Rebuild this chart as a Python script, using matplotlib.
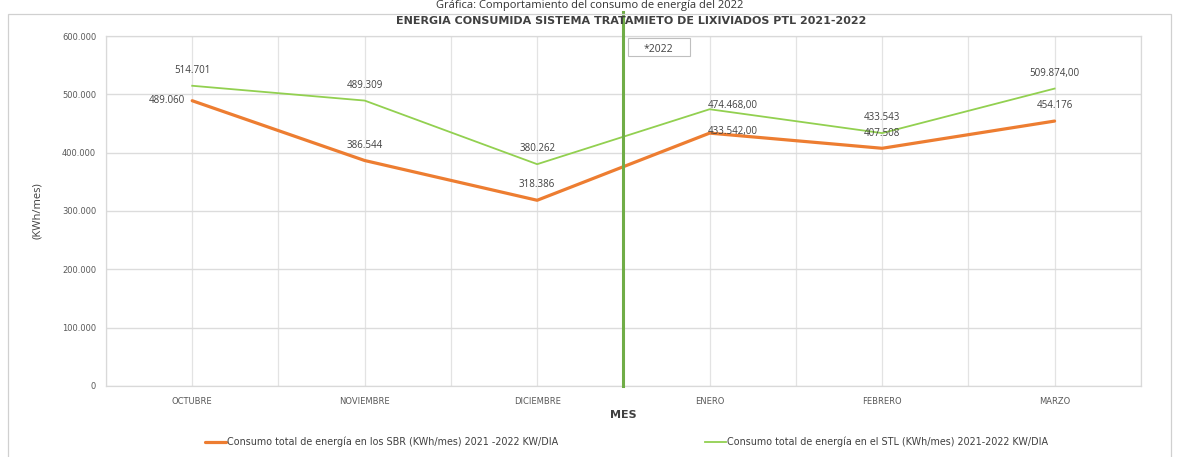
import matplotlib.pyplot as plt
from matplotlib.ticker import FuncFormatter, MultipleLocator

plt.rcParams['font.family'] = ['DejaVu Sans']

# Datos
meses = ['OCTUBRE', 'NOVIEMBRE', 'DICIEMBRE', 'ENERO', 'FEBRERO', 'MARZO']
sbr = [489060, 386544, 318386, 433542, 407508, 454176]
stl = [514701, 489309, 380262, 474468, 433543, 509874]
sbr_etiquetas = ['489.060', '386.544', '318.386', '433.542,00', '407.508', '454.176']
stl_etiquetas = ['514.701', '489.309', '380.262', '474.468,00', '433.543', '509.874,00']
leyenda_sbr = 'Consumo total de energía en los SBR (KWh/mes) 2021 -2022 KW/DIA'
leyenda_stl = 'Consumo total de energía en el STL (KWh/mes) 2021-2022 KW/DIA'

naranja = '#ED7D31'
verde = '#92D050'
gris = '#595959'

fig = plt.figure(figsize=(11.8, 4.57), dpi=100)
ax = fig.add_axes([0.0898, 0.1554, 0.877, 0.7658])

x = list(range(len(meses)))
ax.plot(x, sbr, color=naranja, lw=2.3, solid_capstyle='round', zorder=3, label=leyenda_sbr)
ax.plot(x, stl, color=verde, lw=1.3, zorder=3, label=leyenda_stl)

# Etiquetas de datos
estilo = dict(textcoords='offset points', va='center', fontsize=7, color='#404040', family='Open Sans')
for i, (v, t) in enumerate(zip(sbr, sbr_etiquetas)):
    if i == 0:
        ax.annotate(t, (i, v), xytext=(-5, 0), ha='right', **estilo)
    elif i == 3:
        ax.annotate(t, (i, v), xytext=(-1, 1), ha='left', **estilo)
    else:
        ax.annotate(t, (i, v), xytext=(0, 11), ha='center', **estilo)
for i, (v, t) in enumerate(zip(stl, stl_etiquetas)):
    if i == 3:
        ax.annotate(t, (i, v), xytext=(-1, 3), ha='left', **estilo)
    else:
        ax.annotate(t, (i, v), xytext=(0, 11), ha='center', **estilo)

# Linea divisoria 2022
ax.axvline(2.5, ymin=0, ymax=1.07, color='#70AD47', lw=2.2, zorder=4, clip_on=False)
ax.add_patch(plt.Rectangle((0.504, 0.943), 0.06, 0.051, transform=ax.transAxes,
                           fc='white', ec='#bfbfbf', lw=0.8, zorder=5))
ax.text(0.534, 0.962, '*2022', transform=ax.transAxes, ha='center', va='center',
        fontsize=7.5, family='Open Sans', color='#404040', zorder=6)

ax.set_xlim(-0.5, 5.5)
ax.set_ylim(0, 600000)
ax.set_xticks(x)
ax.set_xticklabels(meses, fontsize=6, color=gris)
ax.xaxis.set_minor_locator(MultipleLocator(0.5))
ax.yaxis.set_major_locator(MultipleLocator(100000))
ax.yaxis.set_major_formatter(FuncFormatter(lambda v, p: '0' if v == 0 else f'{int(v):,}'.replace(',', '.')))
ax.tick_params(axis='y', labelsize=6, labelcolor=gris, length=0, pad=7)
ax.tick_params(axis='x', which='both', length=0, pad=8)
ax.grid(True, which='both', axis='x', color='#e3e3e3', lw=0.9)
ax.grid(True, which='major', axis='y', color='#dcdcdc', lw=1.0)
ax.set_axisbelow(True)
for s in ax.spines.values():
    s.set_color('#d9d9d9')
    s.set_linewidth(0.9)

ax.set_ylabel('(KWh/mes)', fontsize=8, color='#404040', family='Open Sans', labelpad=14)
ax.set_xlabel('MES', fontsize=8, color='#404040', fontweight='bold', labelpad=3)
fig.text(0.535, 0.955, 'ENERGIA CONSUMIDA SISTEMA TRATAMIETO DE LIXIVIADOS PTL 2021-2022',
         ha='center', va='center', fontsize=8, fontweight='bold', color='#404040')
fig.text(0.5, 0.999, 'Gráfica: Comportamiento del consumo de energía del 2022',
         ha='center', va='top', fontsize=8, color='#333333', family='Open Sans')

fig.legend(loc='center', bbox_to_anchor=(0.531, 0.033), ncol=2, frameon=False,
           fontsize=6.9, handlelength=2.2, handletextpad=0.15, columnspacing=15.3,
           labelcolor='#404040')

# Borde del grafico
fig.patches.append(plt.Rectangle((0.007, -0.05), 0.985, 1.02, transform=fig.transFigure,
                                 fill=False, ec='#d0d0d0', lw=0.9))

fig.savefig('out.png', dpi=100)
